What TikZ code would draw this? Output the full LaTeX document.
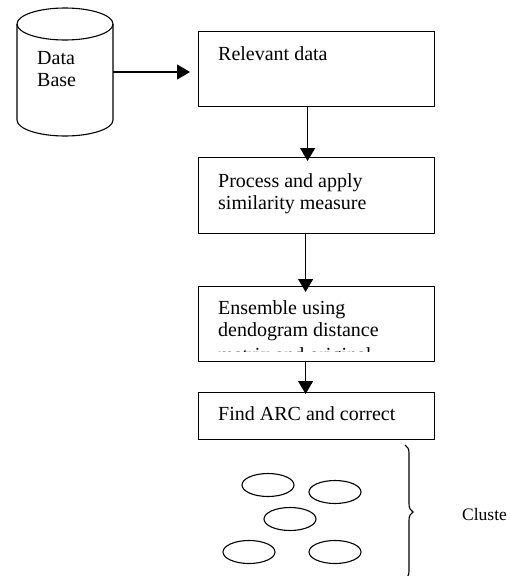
\documentclass[tikz,border=0pt]{standalone}
\usepackage{fontspec}
\setmainfont{Liberation Serif}
\usetikzlibrary{arrows.meta,decorations.pathreplacing,shapes.geometric}
\begin{document}
\begin{tikzpicture}[x=1pt,y=-1pt,
  every node/.style={font=\fontsize{20}{22}\selectfont, inner sep=0pt},
  stepbox/.style={draw, line width=1.2pt, rectangle, anchor=north west, minimum width=236pt},
  label/.style={anchor=base west},
  arr/.style={line width=1.1pt, -{Triangle[length=13pt,width=15pt]}},
  blob/.style={draw, line width=1.1pt, ellipse, minimum width=52pt, minimum height=23pt}
]
\useasboundingbox (0,0) rectangle (510,576);
% database cylinder
\draw[line width=1.1pt] (17,24) -- (17,120) arc[start angle=180,end angle=360,x radius=48pt,y radius=16pt] -- (113,24);
\draw[line width=1.1pt] (65,24) ellipse[x radius=48pt,y radius=16pt];
\node[minimum width=96pt, minimum height=96pt] (db) at (65,72) {};
\node[label] (dbt1) at (37,64) {Data};
\node[label] (dbt2) at (37,86) {Base};
% boxes
\node[stepbox, minimum height=75pt] (b1) at (198,31) {};
\node[stepbox, minimum height=76pt] (b2) at (198,157) {};
\node[stepbox, minimum height=75pt] (b3) at (198,286) {};
\node[stepbox, minimum height=47pt] (b4) at (198,392) {};
\node[label] (t1) at (218,60) {Relevant data};
\node[label] (t2a) at (218,187) {Process and apply};
\node[label] (t2b) at (218,209) {similarity measure};
\node[label] (t3a) at (218,314) {Ensemble using};
\node[label] (t3b) at (218,336) {dendogram distance};
\begin{scope}
\clip (198,340) rectangle (434,351);
\node[label] (t3c) at (218,361.5) {matrix and original};
\end{scope}
\node[label] (t4) at (218,420) {Find ARC and correct};
% arrows
\draw[arr] (db.east) -- ([xshift=-8pt]db.east -| b1.west);
\draw[arr] ([xshift=-9pt]b1.south) -- ([xshift=-9pt,yshift=-4pt]b2.north);
\draw[arr] ([xshift=-11pt]b2.south) -- ([xshift=-11pt,yshift=-6pt]b3.north);
\draw[arr] ([xshift=-11pt]b3.south) -- ([xshift=-11pt,yshift=-2pt]b4.north);
% clusters
\node[blob] (c1) at (268,485) {};
\node[blob] (c2) at (335,492) {};
\node[blob] (c3) at (290,519) {};
\node[blob] (c4) at (249,552) {};
\node[blob] (c5) at (335,552) {};
\coordinate (bt) at (405,445);
\coordinate (bb) at (405,579);
\draw[line width=1.1pt, decorate, decoration={brace, amplitude=8pt}] (bt) -- (bb);
\node[label, font=\fontsize{17.5}{20}\selectfont] (cl) at (462,520) {Cluste};
\end{tikzpicture}
\end{document}
